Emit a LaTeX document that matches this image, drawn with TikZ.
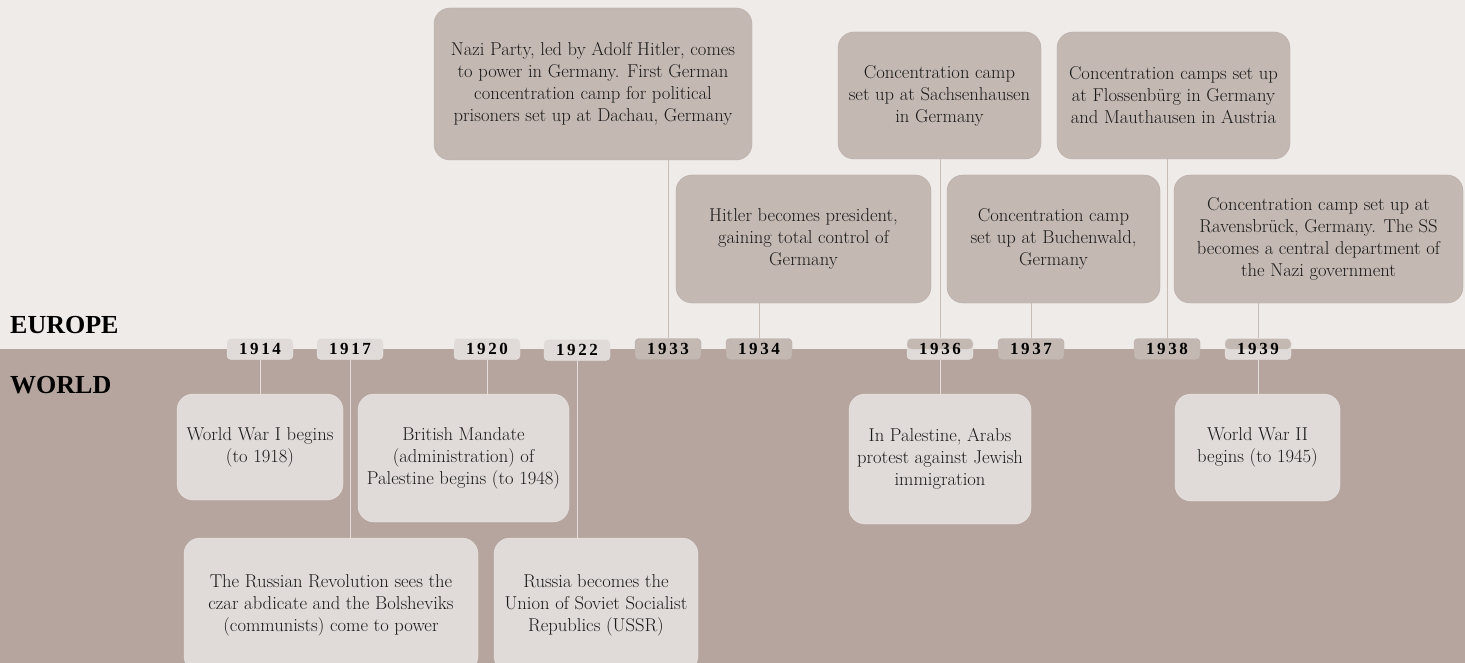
\documentclass[tikz,border=0pt]{standalone}
\usepackage{fontspec}
\usepackage{tikz}
\newfontfamily\yrfont[LetterSpace=15]{Liberation Serif}
\newfontfamily\headfont{Liberation Serif}
\definecolor{cUpper}{HTML}{EFEBE8}
\definecolor{cLower}{HTML}{B5A59E}
\definecolor{cEuFill}{HTML}{C3B8B2}
\definecolor{cEuEdge}{HTML}{B6AAA4}
\definecolor{cWoFill}{HTML}{E0DBD8}
\definecolor{cWoEdge}{HTML}{EAE6E3}
\definecolor{cEuLine}{HTML}{C7BCB6}
\definecolor{cWoLine}{HTML}{E4DFDC}
\definecolor{cText}{HTML}{1A1A1A}
\tikzset{
	eubox/.style  ={rectangle, rounded corners=16pt, align=center, inner sep=0pt, draw=cEuEdge, fill=cEuFill, text=cText},
	wobox/.style  ={rectangle, rounded corners=16pt, align=center, inner sep=0pt, draw=cWoEdge, fill=cWoFill, text=cText},
	yearlbl/.style={rectangle, rounded corners=4pt, minimum width=66pt, minimum height=21pt, inner sep=0pt, text=black, font=\yrfont\bfseries\fontsize{17}{17}\selectfont},
	euyear/.style ={yearlbl, draw=cEuEdge, fill=cEuFill},
	woyear/.style ={yearlbl, draw=cWoEdge, fill=cWoFill},
	bothyear/.style={woyear, path picture={\fill[cEuFill] (path picture bounding box.north west) rectangle (path picture bounding box.east);}},
	eulink/.style ={draw=cEuLine, line width=1pt},
	wolink/.style ={draw=cWoLine, line width=1pt},
	band/.style   ={anchor=base west, inner sep=0pt, text=black, font=\headfont\bfseries\fontsize{26}{26}\selectfont},
}
\begin{document}
\begin{tikzpicture}[x=1pt, y=-1pt, font=\fontsize{18.6}{22}\selectfont]
	\clip (0,0) rectangle (1465,663);
	\fill[cUpper] (0,0) rectangle (1465,349);
	\fill[cLower] (0,349) rectangle (1465,663);
	\node[band] (eu) at (10,333) {EUROPE};
	\node[band] (wo) at (10,393) {WORLD};
	% europe
	\node[eubox, minimum width=318pt, minimum height=152pt] (nazi) at (593,84) {Nazi Party, led by Adolf Hitler, comes\\ to power in Germany. First German\\ concentration camp for political\\ prisoners set up at Dachau, Germany};
	\node[eubox, minimum width=255pt, minimum height=128pt] (pres) at (803.5,239) {Hitler becomes president,\\ gaining total control of\\ Germany};
	\node[eubox, minimum width=203pt, minimum height=127pt] (sachs) at (939.5,95.5) {Concentration camp\\ set up at Sachsenhausen\\ in Germany};
	\node[eubox, minimum width=213pt, minimum height=128pt] (buch) at (1053.5,239) {Concentration camp\\ set up at Buchenwald,\\ Germany};
	\node[eubox, minimum width=233pt, minimum height=127pt] (floss) at (1173.5,95.5) {Concentration camps set up\\ at Flossenbürg in Germany\\ and Mauthausen in Austria};
	\node[eubox, minimum width=289pt, minimum height=128pt] (ravens) at (1318.5,239) {Concentration camp set up at\\ Ravensbrück, Germany. The SS\\ becomes a central department of\\ the Nazi government};
	% world
	\node[wobox, minimum width=166pt, minimum height=106pt] (ww1) at (260,447) {World War I begins\\ (to 1918)};
	\node[wobox, minimum width=211pt, minimum height=128pt] (mandate) at (463.5,458) {British Mandate\\ (administration) of\\ Palestine begins (to 1948)};
	\node[wobox, minimum width=294pt, minimum height=134pt] (revol) at (331,605) {The Russian Revolution sees the\\ czar abdicate and the Bolsheviks\\ (communists) come to power};
	\node[wobox, minimum width=204pt, minimum height=134pt] (ussr) at (596,605) {Russia becomes the\\ Union of Soviet Socialist\\ Republics (USSR)};
	\node[wobox, minimum width=182pt, minimum height=130pt] (arabs) at (940,459) {In Palestine, Arabs\\ protest against Jewish\\ immigration};
	\node[wobox, minimum width=165pt, minimum height=107pt] (ww2) at (1257.5,447.5) {World War II\\ begins (to 1945)};
	% years
	\node[woyear] (y14) at (260,349) {1914};
	\node[woyear] (y17) at (350,349) {1917};
	\node[woyear] (y20) at (487,349) {1920};
	\node[woyear] (y22) at (577,350) {1922};
	\node[euyear] (y33) at (668,349) {1933};
	\node[euyear] (y34) at (759,349) {1934};
	\node[bothyear] (y36) at (940,349) {1936};
	\node[euyear] (y37) at (1031,349) {1937};
	\node[euyear] (y38) at (1167,349) {1938};
	\node[bothyear] (y39) at (1258,349) {1939};
	\draw[eulink] (y33.north) -- (y33.north |- nazi.south); \draw[eulink] (y34.north) -- (y34.north |- pres.south);
	\draw[eulink] (y36.north) -- (y36.north |- sachs.south); \draw[eulink] (y37.north) -- (y37.north |- buch.south);
	\draw[eulink] (y38.north) -- (y38.north |- floss.south); \draw[eulink] (y39.north) -- (y39.north |- ravens.south);
	\draw[wolink] (y14.south) -- (y14.south |- ww1.north); \draw[wolink] (y17.south) -- (y17.south |- revol.north);
	\draw[wolink] (y20.south) -- (y20.south |- mandate.north); \draw[wolink] (y22.south) -- (y22.south |- ussr.north);
	\draw[wolink] (y36.south) -- (y36.south |- arabs.north); \draw[wolink] (y39.south) -- (y39.south |- ww2.north);
\end{tikzpicture}
\end{document}
